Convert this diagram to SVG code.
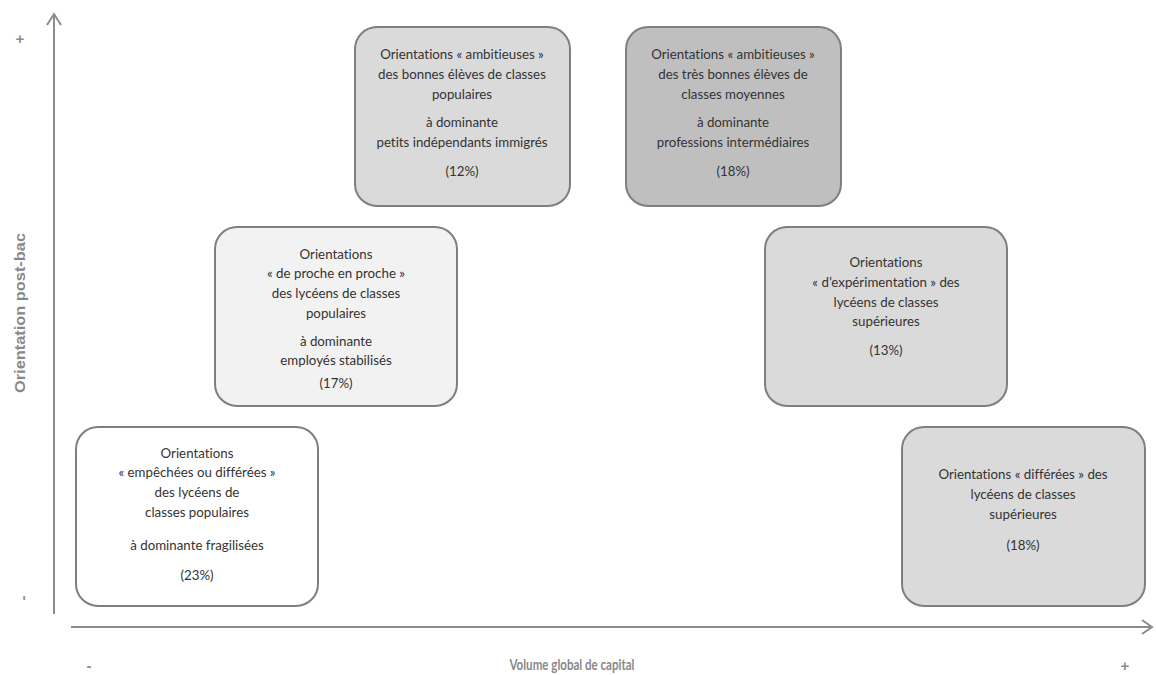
<svg xmlns="http://www.w3.org/2000/svg" width="1156" height="675" viewBox="0 0 1156 675">
<style>
.box{stroke:#7f7f7f;stroke-width:2}
.t{font-family:Lato,"Liberation Sans",sans-serif;font-size:13.3px;fill:#333;text-anchor:middle;font-variant-ligatures:none}
.ax{stroke:#8c8c8c;stroke-width:2;fill:none}
.al{font-weight:bold;fill:#888;text-anchor:middle}
.sg{font-family:"Liberation Sans",sans-serif;font-weight:bold;fill:#8c8c8c;font-size:15px;text-anchor:middle}
</style>
<rect width="1156" height="675" fill="#fff"/>
<g id="axes">
<line class="ax" x1="54" y1="15" x2="54" y2="614"/>
<polyline class="ax" points="47,25 54,14 61,25"/>
<line class="ax" x1="71" y1="627" x2="1151" y2="627"/>
<polyline class="ax" points="1142,620 1152,627 1142,634"/>
<text class="sg" x="20" y="44">+</text>
<text class="sg" x="23" y="603" transform="rotate(-90 23 598)">-</text>
<text class="sg" x="89" y="671">-</text>
<text class="sg" x="1125" y="671">+</text>
<text class="al" x="572" y="670" font-size="15.5px" font-family="Lato,sans-serif" textLength="125" lengthAdjust="spacingAndGlyphs">Volume global de capital</text>
<text class="al" x="25" y="313" font-size="14px" font-family="Liberation Sans,sans-serif" transform="rotate(-90 25 313)" textLength="160" lengthAdjust="spacingAndGlyphs">Orientation post-bac</text>
</g>
<g id="connectors"></g>
<g id="n1">
<rect class="box" x="355" y="27" width="215" height="179" rx="22" fill="#dadada"/>
<text class="t" x="462" y="59">Orientations « ambitieuses »</text>
<text class="t" x="462" y="79">des bonnes élèves de classes</text>
<text class="t" x="462" y="99">populaires</text>
<text class="t" x="462" y="127">à dominante</text>
<text class="t" x="462" y="147">petits indépendants immigrés</text>
<text class="t" x="462" y="176">(12%)</text>
</g>
<g id="n2">
<rect class="box" x="626" y="27" width="215" height="179" rx="22" fill="#bfbfbf"/>
<text class="t" x="733" y="59">Orientations « ambitieuses »</text>
<text class="t" x="733" y="79">des très bonnes élèves de</text>
<text class="t" x="733" y="99">classes moyennes</text>
<text class="t" x="733" y="127">à dominante</text>
<text class="t" x="733" y="147">professions intermédiaires</text>
<text class="t" x="733" y="176">(18%)</text>
</g>
<g id="n3">
<rect class="box" x="215" y="227" width="242" height="179" rx="22" fill="#f2f2f2"/>
<text class="t" x="336" y="259">Orientations</text>
<text class="t" x="336" y="278">« de proche en proche »</text>
<text class="t" x="336" y="298">des lycéens de classes</text>
<text class="t" x="336" y="318">populaires</text>
<text class="t" x="336" y="346">à dominante</text>
<text class="t" x="336" y="365">employés stabilisés</text>
<text class="t" x="336" y="388">(17%)</text>
</g>
<g id="n4">
<rect class="box" x="765" y="227" width="242" height="179" rx="22" fill="#dadada"/>
<text class="t" x="886" y="267">Orientations</text>
<text class="t" x="886" y="287">« d’expérimentation » des</text>
<text class="t" x="886" y="307">lycéens de classes</text>
<text class="t" x="886" y="326">supérieures</text>
<text class="t" x="886" y="355">(13%)</text>
</g>
<g id="n5">
<rect class="box" x="76" y="427" width="242" height="179" rx="22" fill="#ffffff"/>
<text class="t" x="197" y="458">Orientations</text>
<text class="t" x="197" y="477">« empêchées ou différées »</text>
<text class="t" x="197" y="497">des lycéens de</text>
<text class="t" x="197" y="517">classes populaires</text>
<text class="t" x="197" y="550">à dominante fragilisées</text>
<text class="t" x="197" y="580">(23%)</text>
</g>
<g id="n6">
<rect class="box" x="902" y="427" width="243" height="179" rx="22" fill="#dadada"/>
<text class="t" x="1023" y="479">Orientations « différées » des</text>
<text class="t" x="1023" y="499">lycéens de classes</text>
<text class="t" x="1023" y="519">supérieures</text>
<text class="t" x="1023" y="550">(18%)</text>
</g>
</svg>
